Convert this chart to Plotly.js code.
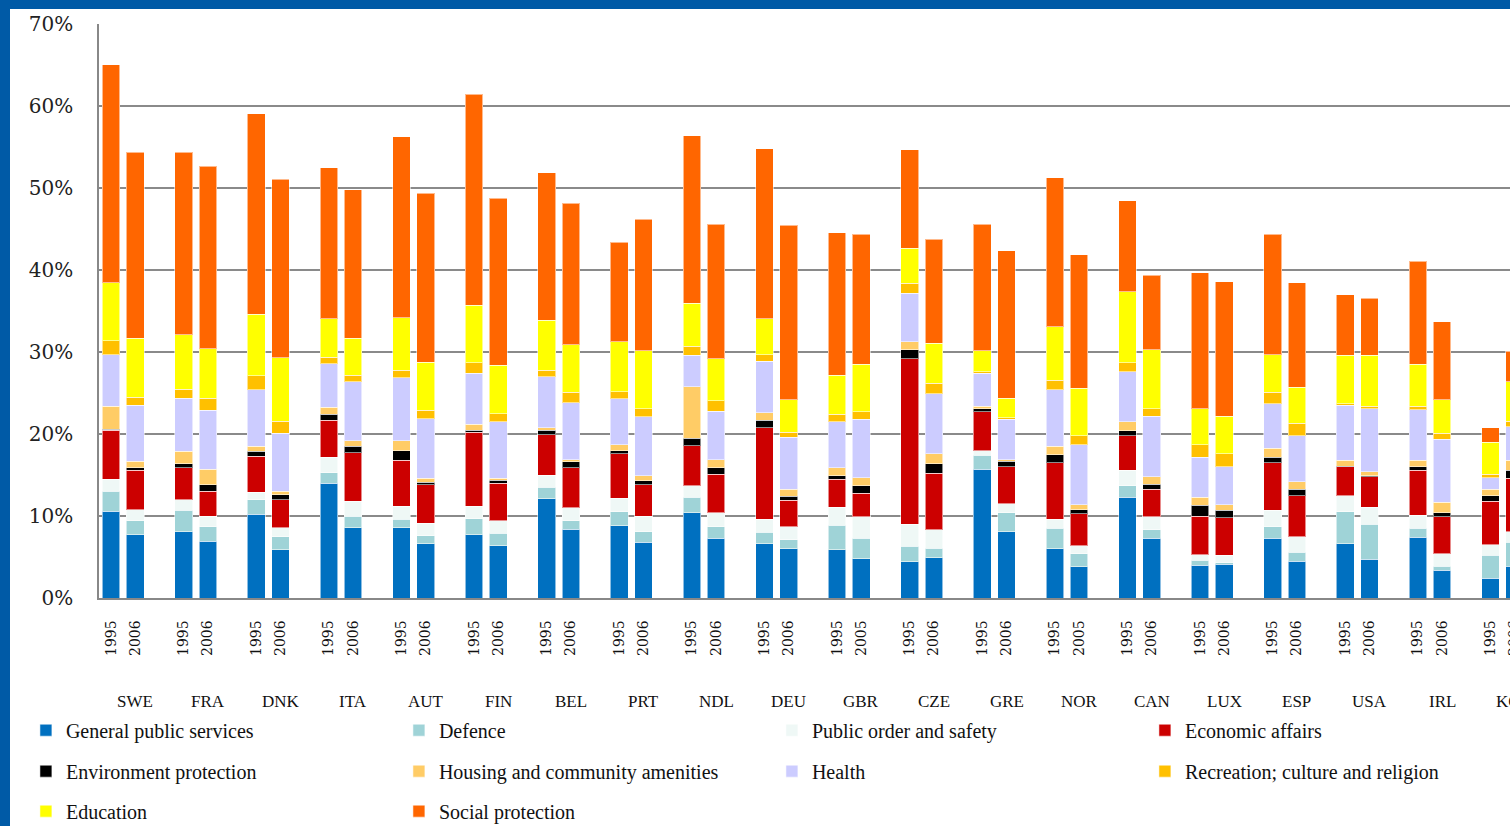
<!DOCTYPE html>
<html>
<head>
<meta charset="utf-8">
<script src="https://cdn.plot.ly/plotly-3.0.1.min.js"></script>
<style>
  html, body { margin: 0; padding: 0; overflow: hidden; background: #ffffff; }
  #chart { position: absolute; left: 0; top: 0; width: 1620px; height: 826px; }
  .frame { position: fixed; background: #005AA6; z-index: 10; }
  #frameLeft { left: 0; top: 0; width: 10px; height: 100%; }
  #frameTop { left: 0; top: 0; width: 100%; height: 9px; }
</style>
</head>
<body>
<div id="chart"></div>
<div class="frame" id="frameLeft"></div>
<div class="frame" id="frameTop"></div>
<script>
// Government expenditure by function, share of GDP, two years per country
const countries = ['SWE','FRA','DNK','ITA','AUT','FIN','BEL','PRT','NDL','DEU',
                   'GBR','CZE','GRE','NOR','CAN','LUX','ESP','USA','IRL','KOR'];
const firstYear  = ['1995','1995','1995','1995','1995','1995','1995','1995','1995','1995',
                    '1995','1995','1995','1995','1995','1995','1995','1995','1995','1995'];
const secondYear = ['2006','2006','2006','2006','2006','2006','2006','2006','2006','2006',
                    '2005','2006','2006','2005','2006','2006','2006','2006','2006','2006'];

// values in % of GDP, ordered country by country: [first year, second year, ...]
const generalPublicServices = [10.6,7.7, 8.1,6.9, 10.2,5.9, 14.0,8.6, 8.6,6.6, 7.7,6.4, 12.1,8.4, 8.8,6.8, 10.4,7.3, 6.6,6.0,
                               5.9,4.8, 4.4,4.9, 15.7,8.1, 6.0,3.8, 12.3,7.3, 4.0,4.1, 7.3,4.5, 6.6,4.7, 7.4,3.4, 2.4,3.9];
const defence               = [2.4,1.7, 2.6,1.8, 1.8,1.6, 1.3,1.4, 1.0,1.0, 2.0,1.5, 1.4,1.0, 1.7,1.3, 1.9,1.4, 1.4,1.1,
                               3.0,2.5, 1.9,1.2, 1.7,2.3, 2.5,1.6, 1.4,1.0, 0.6,0.2, 1.4,1.1, 3.9,4.3, 1.1,0.5, 2.8,2.9];
const publicOrder           = [1.5,1.4, 1.3,1.3, 0.9,1.1, 1.9,1.8, 1.6,1.5, 1.5,1.5, 1.5,1.6, 1.7,1.9, 1.4,1.7, 1.6,1.6,
                               2.2,2.6, 2.7,2.2, 0.6,1.1, 1.1,1.0, 1.9,1.6, 0.7,0.9, 2.0,1.9, 2.0,2.1, 1.6,1.5, 1.3,1.3];
const economicAffairs       = [6.0,4.8, 3.9,3.0, 4.4,3.4, 4.5,5.9, 5.6,4.7, 9.0,4.6, 4.9,4.9, 5.4,3.8, 4.9,4.7, 11.2,3.2,
                               3.4,2.9, 20.2,6.9, 4.7,4.5, 6.9,3.9, 4.2,3.4, 4.7,4.6, 5.8,5.0, 3.5,3.7, 5.5,4.5, 5.3,6.5];
const environment           = [0.1,0.3, 0.5,0.8, 0.6,0.6, 0.7,0.8, 1.2,0.3, 0.3,0.4, 0.6,0.7, 0.4,0.5, 0.9,0.8, 0.9,0.5,
                               0.4,0.9, 1.1,1.2, 0.4,0.7, 1.0,0.5, 0.6,0.6, 1.3,0.9, 0.7,0.8, 0.1,0.1, 0.4,0.5, 0.7,1.0];
const housing               = [2.8,0.8, 1.5,1.9, 0.6,0.4, 0.9,0.7, 1.2,0.5, 0.7,0.2, 0.3,0.3, 0.7,0.6, 6.3,1.0, 0.9,0.9,
                               1.0,1.0, 1.0,1.2, 0.3,0.2, 1.0,0.6, 1.1,0.9, 1.0,0.7, 1.1,0.9, 0.7,0.5, 0.8,1.3, 0.8,1.2];
const health                = [6.3,6.8, 6.5,7.2, 6.9,7.1, 5.3,7.2, 7.7,7.3, 6.2,6.9, 6.2,6.9, 5.6,7.2, 3.8,5.9, 6.3,6.3,
                               5.6,7.1, 5.9,7.3, 4.0,4.9, 6.9,7.3, 6.1,7.4, 4.9,4.6, 5.4,5.6, 6.7,7.7, 6.2,7.7, 1.4,4.1];
const recreation            = [1.7,1.0, 1.1,1.5, 1.7,1.5, 0.8,0.8, 0.9,1.0, 1.3,1.0, 0.8,1.3, 0.9,1.0, 1.1,1.3, 0.8,0.6,
                               0.9,0.9, 1.2,1.3, 0.2,0.2, 1.2,1.1, 1.1,0.9, 1.5,1.6, 1.4,1.5, 0.2,0.3, 0.4,0.7, 0.4,0.7];
const education             = [7.1,7.2, 6.6,6.0, 7.5,7.7, 4.7,4.5, 6.4,5.9, 7.0,5.9, 6.1,5.8, 6.1,7.1, 5.3,5.1, 4.4,4.0,
                               4.8,5.8, 4.3,4.9, 2.6,2.4, 6.5,5.8, 8.7,7.2, 4.4,4.6, 4.6,4.4, 5.9,6.2, 5.1,4.1, 3.9,4.8];
const socialProtection      = [26.6,22.7, 22.3,22.3, 24.5,21.8, 18.4,18.1, 22.1,20.6, 25.8,20.4, 18.0,17.3, 12.1,16.0, 20.4,16.4, 20.7,21.3,
                               17.4,15.9, 12.0,12.7, 15.4,18.0, 18.2,16.3, 11.1,9.1, 16.6,16.4, 14.7,12.8, 7.4,7.0, 12.6,9.5, 1.8,3.7];

const seriesNames = ['General public services','Defence','Public order and safety','Economic affairs',
                     'Environment protection','Housing and community amenities','Health',
                     'Recreation; culture and religion','Education','Social protection'];
const seriesValues = [generalPublicServices, defence, publicOrder, economicAffairs, environment,
                      housing, health, recreation, education, socialProtection];
const seriesColors = ['#0070C0','#9FD3D7','#EFF8F6','#CC0000','#000000',
                      '#FFCC66','#CCCCFF','#FFC000','#FFFF00','#FF6600'];
// legend rows of four, four and two entries
const legendRow = ['legend','legend','legend','legend','legend2','legend2','legend2','legend2','legend3','legend3'];

// each country takes three slots: first year, second year, gap
const slotX = [], slotText = [];
countries.forEach((c, i) => {
  slotX.push(3 * i, 3 * i + 1);
  slotText.push(firstYear[i], secondYear[i]);
});

const traces = seriesNames.map((name, s) => ({
  type: 'bar',
  name: name,
  x: slotX,
  y: seriesValues[s],
  legend: legendRow[s],
  marker: { color: seriesColors[s], line: { color: 'rgba(255,255,255,0.55)', width: 1 } },
  hovertemplate: name + ': %{y:.1f}%<extra></extra>'
}));

const serif = 'Liberation Serif, Times New Roman, serif';
const legendCommon = {
  orientation: 'h', xref: 'container', yref: 'container', x: 0.016, xanchor: 'left',
  yanchor: 'middle', font: { family: serif, size: 20, color: '#111' },
  entrywidth: 328, entrywidthmode: 'pixels', bgcolor: 'rgba(0,0,0,0)', traceorder: 'normal'
};

const annotations = countries.map((c, i) => ({
  x: 3 * i + 1, xref: 'x', y: -0.181, yref: 'paper', yanchor: 'middle',
  text: c, showarrow: false, font: { family: serif, size: 17, color: '#111' }
}));

const layout = {
  width: 1620, height: 826,
  margin: { l: 99, r: 0, t: 24, b: 228 },
  paper_bgcolor: '#ffffff', plot_bgcolor: '#ffffff',
  barmode: 'stack', bargap: 0.27,
  showlegend: true,
  legend:  Object.assign({}, legendCommon, { y: 0.116 }),
  legend2: Object.assign({}, legendCommon, { y: 0.0664 }),
  legend3: Object.assign({}, legendCommon, { y: 0.018 }),
  xaxis: {
    range: [-0.5, 62.35], tickmode: 'array', tickvals: slotX, ticktext: slotText,
    tickangle: -90, ticks: '', ticklabelstandoff: 15,
    tickfont: { family: 'DejaVu Serif, serif', size: 14, color: '#111' },
    showgrid: false, zeroline: false, showline: true, linecolor: '#888', linewidth: 1.5
  },
  yaxis: {
    range: [0, 70.05], dtick: 10, tick0: 0, ticksuffix: '%', ticks: '', ticklabelstandoff: 20,
    tickfont: { family: 'DejaVu Serif, serif', size: 20, color: '#222' },
    showgrid: true, gridcolor: '#8a8a8a', gridwidth: 1.5,
    zeroline: false, showline: true, linecolor: '#888', linewidth: 1.5
  },
  annotations: annotations
};

Plotly.newPlot('chart', traces, layout, { displayModeBar: false, staticPlot: false });
</script>
</body>
</html>
